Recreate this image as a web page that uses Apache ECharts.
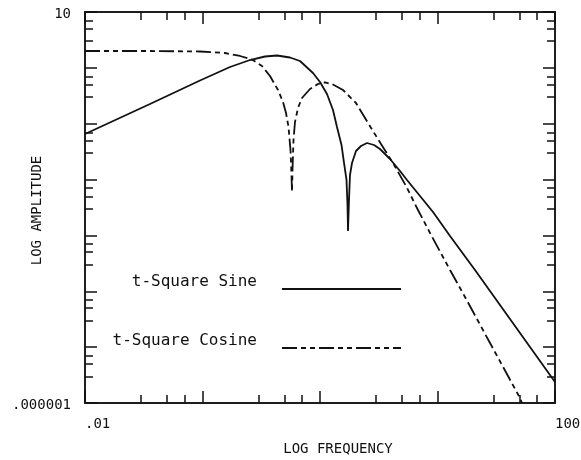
<!DOCTYPE html>
<html>
<head>
<meta charset="utf-8">
<script src="https://cdn.jsdelivr.net/npm/echarts@6/dist/echarts.min.js"></script>
<style>
  html, body { margin: 0; padding: 0; background: #fff; }
  #chart { width: 581px; height: 460px; }
</style>
</head>
<body>
<div id="chart"></div>
<script>
// Spectral amplitude of the t-square sine and cosine pulses (log-log)
const sineFreq = [0.01, 0.03573, 0.0952, 0.1714, 0.2537, 0.3402, 0.4305, 0.5555, 0.6757, 0.8717,
  1.0, 1.147, 1.290, 1.395, 1.524, 1.601, 1.681, 1.714, 1.731, 1.765, 1.800, 1.872, 2.025, 2.233,
  2.512, 2.881, 3.240, 3.942, 4.797, 5.500, 7.098, 9.156, 12.78, 20.85, 34.02, 50.36, 100];
const sineAmp = [0.06545, 0.2254, 0.5939, 1.036, 1.382, 1.597, 1.664, 1.533, 1.327, 0.8091,
  0.5582, 0.3404, 0.1761, 0.08737, 0.04159, 0.01981, 0.009829, 0.003506, 0.001201, 0.004310,
  0.01208, 0.01981, 0.03248, 0.03992, 0.04516, 0.04159, 0.03527, 0.02335, 0.01424, 0.009829,
  0.005082, 0.002628, 0.0009772, 0.0002406, 0.00005686, 0.00001792, 0.000002378];

const cosFreq = [0.01, 0.03573, 0.0952, 0.1554, 0.2085, 0.2638, 0.3209, 0.3754, 0.4391, 0.4844,
  0.5137, 0.5395, 0.5609, 0.5720, 0.5777, 0.5834, 0.5949, 0.6126, 0.6500, 0.7027, 0.8221, 0.9616,
  1.103, 1.265, 1.569, 2.025, 2.562, 3.305, 4.181, 5.394, 6.823, 8.636, 12.78, 17.14, 27.98,
  50.36, 52.37];
const cosAmp = [2.004, 2.004, 1.963, 1.845, 1.631, 1.411, 1.080, 0.7149, 0.4015, 0.2447,
  0.1555, 0.08737, 0.03385, 0.01208, 0.005992, 0.01484, 0.05112, 0.1074, 0.1912, 0.2887, 0.4184,
  0.5143, 0.5470, 0.5143, 0.4015, 0.2349, 0.1030, 0.04335, 0.01981, 0.007676, 0.002853, 0.001106,
  0.0002406, 0.00007907, 0.00001187, 0.00000123, 0.000001];

const seriesNames = ['t-Square Sine', 't-Square Cosine'];

// Tick positions: long ticks at each decade, short ticks at 3, 5, 7
const xMajorTicks = [0.01, 0.1, 1, 10, 100];
const xMinorTicks = [0.03, 0.05, 0.07, 0.3, 0.5, 0.7, 3, 5, 7, 30, 50, 70];
const yMajorTicks = [0.000001, 0.00001, 0.0001, 0.001, 0.01, 0.1, 1, 10];
const yMinorTicks = [0.000003, 0.000005, 0.000007, 0.00003, 0.00005, 0.00007,
  0.0003, 0.0005, 0.0007, 0.003, 0.005, 0.007, 0.03, 0.05, 0.07, 0.3, 0.5, 0.7, 3, 5, 7];

// Only the axis ends carry labels
const xLabelValues = [0.01, 100];
const xLabelTexts = ['.01', '100'];
const yLabelValues = [0.000001, 10];
const yLabelTexts = ['.000001', '10'];

const FONT = 'DejaVu Sans Mono';
const INK = '#111';

function labelFor(values, texts, prefix) {
  return function (v) {
    for (let i = 0; i < values.length; i++) {
      if (Math.abs(Math.log10(v) - Math.log10(values[i])) < 1e-6) return (prefix || '') + texts[i];
    }
    return '';
  };
}

function tickAxis(base, position, ticks, len, labels) {
  return Object.assign({
    type: 'log',
    logBase: 10,
    position: position,
    axisLine: { show: true, lineStyle: { color: INK, width: 1.5 } },
    axisTick: { show: true, inside: true, length: len, customValues: ticks,
      lineStyle: { color: INK, width: 1.5 } },
    splitLine: { show: false },
    minorTick: { show: false },
    axisLabel: labels || { show: false }
  }, base);
}

const xBase = { min: 0.01, max: 100 };
const yBase = { min: 0.000001, max: 10 };

const chart = echarts.init(document.getElementById('chart'), null, { renderer: 'canvas' });

chart.setOption({
  animation: false,
  backgroundColor: '#fff',
  grid: { left: 85, right: 26, top: 12, bottom: 57, containLabel: false, outerBoundsMode: 'none' },
  legend: {
    data: seriesNames,
    orient: 'vertical',
    align: 'right',
    right: 179,
    top: 274,
    padding: 0,
    itemWidth: 119,
    itemHeight: 14,
    itemGap: 29,
    itemStyle: { opacity: 0 },
    // a blank second line lifts each name above its line sample
    formatter: function (name) { return name + '\n '; },
    textStyle: { fontFamily: FONT, fontSize: 16, lineHeight: 14, color: INK, padding: [0, 20, 0, 0] }
  },
  xAxis: [
    tickAxis(Object.assign({
      name: 'LOG FREQUENCY',
      nameLocation: 'middle',
      nameGap: 39,
      nameMoveOverlap: false,
      nameTextStyle: { fontFamily: FONT, fontSize: 14, color: INK, padding: [0, 0, 0, 36] }
    }, xBase), 'bottom', xMajorTicks, 12, {
      show: true,
      customValues: xLabelValues,
      formatter: labelFor(xLabelValues, xLabelTexts),
      align: 'left',
      margin: 14,
      fontFamily: FONT, fontSize: 14, color: INK
    }),
    tickAxis(Object.assign({}, xBase), 'bottom', xMinorTicks, 8),
    tickAxis(Object.assign({}, xBase), 'top', xMajorTicks, 12),
    tickAxis(Object.assign({}, xBase), 'top', xMinorTicks, 8)
  ],
  yAxis: [
    tickAxis(Object.assign({
      name: 'LOG AMPLITUDE',
      nameLocation: 'middle',
      nameGap: 41,
      nameRotate: 90,
      nameMoveOverlap: false,
      nameTextStyle: { fontFamily: FONT, fontSize: 14, color: INK, padding: [0, 6, 0, 0] }
    }, yBase), 'left', yMajorTicks, 12, {
      show: true,
      customValues: yLabelValues,
      // leading blank line nudges the end labels slightly below their ticks
      formatter: labelFor(yLabelValues, yLabelTexts, '\n'),
      lineHeight: 4,
      margin: 14,
      fontFamily: FONT, fontSize: 14, color: INK
    }),
    tickAxis(Object.assign({}, yBase), 'left', yMinorTicks, 8),
    tickAxis(Object.assign({}, yBase), 'right', yMajorTicks, 12),
    tickAxis(Object.assign({}, yBase), 'right', yMinorTicks, 8)
  ],
  series: [
    {
      name: seriesNames[0],
      type: 'line',
      xAxisIndex: 0,
      yAxisIndex: 0,
      symbol: 'none',
      data: sineFreq.map((f, i) => [f, sineAmp[i]]),
      lineStyle: { color: INK, width: 1.8, type: 'solid' },
      itemStyle: { color: INK }
    },
    {
      name: seriesNames[1],
      type: 'line',
      xAxisIndex: 0,
      yAxisIndex: 0,
      symbol: 'none',
      data: cosFreq.map((f, i) => [f, cosAmp[i]]),
      lineStyle: { color: INK, width: 1.8, type: [15, 4, 5, 4, 5, 4] },
      itemStyle: { color: INK }
    }
  ]
});
</script>
</body>
</html>
